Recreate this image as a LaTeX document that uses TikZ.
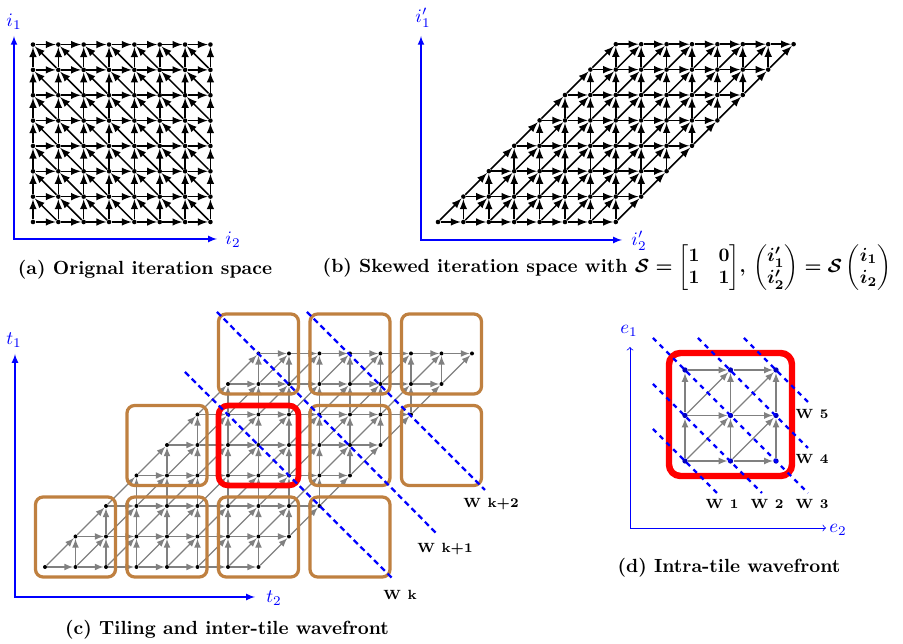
\documentclass[tikz,border=0pt]{standalone}
\usepackage{amsmath}
\usepackage{amssymb}
\usepackage{xcolor}
\usetikzlibrary{arrows, calc, positioning}
\newsavebox{\skewcapbox}

\begin{document}
\sbox{\skewcapbox}{\bfseries\boldmath (b) Skewed iteration space with $\mathcal{S}=\begin{bmatrix}1&0\\1&1\end{bmatrix}$, $\begin{pmatrix}i_1'\\i_2'\end{pmatrix}=\mathcal{S}\begin{pmatrix}i_1\\i_2\end{pmatrix}$}%
\begin{tikzpicture}[x=0.525pt, y=0.525pt,
  pnt/.style={fill=black, circle, inner sep=0pt, minimum size=2.4pt},
  bpnt/.style={fill=blue!75!black, circle, inner sep=0pt, minimum size=2.8pt},
  dep/.style={-latex},
  ax/.style={latex-latex, semithick, blue},
  dax/.style={<->, blue},
  tilebox/.style={draw=brown, line width=1.7pt, rounded corners=4pt},
  curtile/.style={draw=red, line width=3pt, rounded corners=5pt},
  wave/.style={blue, very thick, densely dashed},
  dwave/.style={blue, very thick, dash pattern=on 2.5pt off 2.5pt},
  wlbl/.style={font=\scriptsize\bfseries},
  captxt/.style={font=\bfseries}]
\useasboundingbox (0,0) rectangle (903,644);

%% (a) original space
\def\scalex{25.35}
\def\startx{33}
\def\starty{422}
\foreach \row in {0,...,7}
  \foreach \col in {0,...,7}
    \node[pnt] (a\row-\col) at (\col*\scalex+\startx, \row*\scalex+\starty) {};

\coordinate (ao) at (14,405);
\coordinate (ay) at (14,608);
\coordinate (ax) at (217,405);
\draw[ax] (ay) -- (ao) -- (ax);
\node[blue] (ai1) at (14,622) {$i_1$};
\node[blue] (ai2) at (233,404) {$i_2$};

%% (b) skewed space
\def\scalex{25.4}
\def\startx{438}
\def\starty{422}
\foreach \row in {0,...,7}
  \foreach \col in {0,...,7}
    \node[pnt] (b\row-\col) at ({(\row+\col)*\scalex+\startx}, \row*\scalex+\starty) {};

\coordinate (bo) at (421,404);
\coordinate (by) at (421,608);
\coordinate (bx) at (622,404);
\draw[ax] (by) -- (bo) -- (bx);
\node[blue] (bi1) at (423,626) {$i_1'$};
\node[blue] (bi2) at (639,403) {$i_2'$};

%% (c) tiled space
\def\scalex{30.5}
\def\startx{45}
\def\starty{77}
\foreach \row in {0,...,7}
  \foreach \col in {0,...,7}
    \node[pnt, minimum size=2.1pt] (c\row-\col) at ({(\row+\col)*\scalex+\startx}, \row*\scalex+\starty) {};

% same dependences in (a), (b), (c)
\foreach \p/\clr/\w in {a/black/0.8pt, b/black/0.8pt, c/gray/0.6pt} {
  \foreach \row in {0,...,7}
    \foreach \col in {0,...,7} {
      \pgfmathtruncatemacro\nrow{\row+1}
      \pgfmathtruncatemacro\ncol{\col+1}
      \pgfmathtruncatemacro\pcol{\col-1}
      \ifnum\col<7 \draw[dep, color=\clr, line width=\w] (\p\row-\col) -- (\p\row-\ncol); \fi
      \ifnum\row<7 \draw[dep, color=\clr, line width=\w] (\p\row-\col) -- (\p\nrow-\col); \fi
      \ifnum\row<7 \ifnum\col>0 \draw[dep, color=\clr, line width=\w] (\p\row-\col) -- (\p\nrow-\pcol); \fi\fi
    }
}

\foreach \b/\t in {0/0,0/1,0/2,0/3,1/1,1/3,1/4,2/2,2/3,2/4}
  \draw[tilebox] ({3*\t*\scalex+\startx-9.5}, {3*\b*\scalex+\starty-10}) rectangle +(80,80);
\draw[curtile] ({6*\scalex+\startx-9.5}, {3*\scalex+\starty-10}) rectangle +(80,80);

\draw[wave] (185,272) -- (393,65);
\draw[wave] (217,332) -- (438,109);
\draw[wave] (307,332) -- (485,154);
\node[wlbl] (wk) at (400,49) {W\enspace k};
\node[wlbl] (wk1) at (445,95) {W\enspace k+1};
\node[wlbl] (wk2) at (491,140) {W\enspace k+2};

\coordinate (co) at (15,47);
\coordinate (cy) at (15,290);
\coordinate (cx) at (255,47);
\draw[ax] (cy) -- (co) -- (cx);
\node[blue] (ct1) at (14,304) {$t_1$};
\node[blue] (ct2) at (274,46) {$t_2$};

%% (d) one tile
\def\scalex{45.5}
\def\startx{685}
\def\starty{183}
\foreach \row in {0,...,2}
  \foreach \col in {0,...,2}
    \node[bpnt] (d\row-\col) at (\col*\scalex+\startx, \row*\scalex+\starty) {};

\foreach \row in {0,...,2}
  \foreach \col in {0,...,2} {
    \pgfmathtruncatemacro\nrow{\row+1}
    \pgfmathtruncatemacro\ncol{\col+1}
    \ifnum\col<2 \draw[dep, gray, semithick] (d\row-\col) -- (d\row-\ncol); \fi
    \ifnum\row<2 \draw[dep, gray, semithick] (d\row-\col) -- (d\nrow-\col); \fi
    \ifnum\row<2 \ifnum\col<2 \draw[dep, gray, semithick] (d\row-\col) -- (d\nrow-\ncol); \fi\fi
  }

\draw[curtile, line width=3.4pt, rounded corners=6pt] (669,168) rectangle (792,291);

\draw[dwave] (653,215) -- (717,151);
\draw[dwave] (653,260) -- (762,151);
\draw[dwave] (653,306) -- (808,151);
\draw[dwave] (698,306) -- (808,196);
\draw[dwave] (744,306) -- (808,242);
\node[wlbl] (w1) at (722,140) {W\enspace 1};
\node[wlbl] (w2) at (767,140) {W\enspace 2};
\node[wlbl] (w3) at (812,140) {W\enspace 3};
\node[wlbl] (w4) at (812,185) {W\enspace 4};
\node[wlbl] (w5) at (812,230) {W\enspace 5};

\coordinate (eo) at (630,116);
\coordinate (ey) at (630,297);
\coordinate (ex) at (826,116);
\draw[dax] (ey) -- (eo) -- (ex);
\node[blue] (e1) at (629,313) {$e_1$};
\node[blue] (e2) at (838,114) {$e_2$};

%% captions
\node[captxt] (capa) at (145,374) {(a) Orignal iteration space};
\node[inner sep=0pt] (capb) at (607,376) {\usebox{\skewcapbox}};
\node[captxt] (capc) at (227,14) {(c) Tiling and inter-tile wavefront};
\node[captxt] (capd) at (729,76) {(d) Intra-tile wavefront};
\end{tikzpicture}
\end{document}
